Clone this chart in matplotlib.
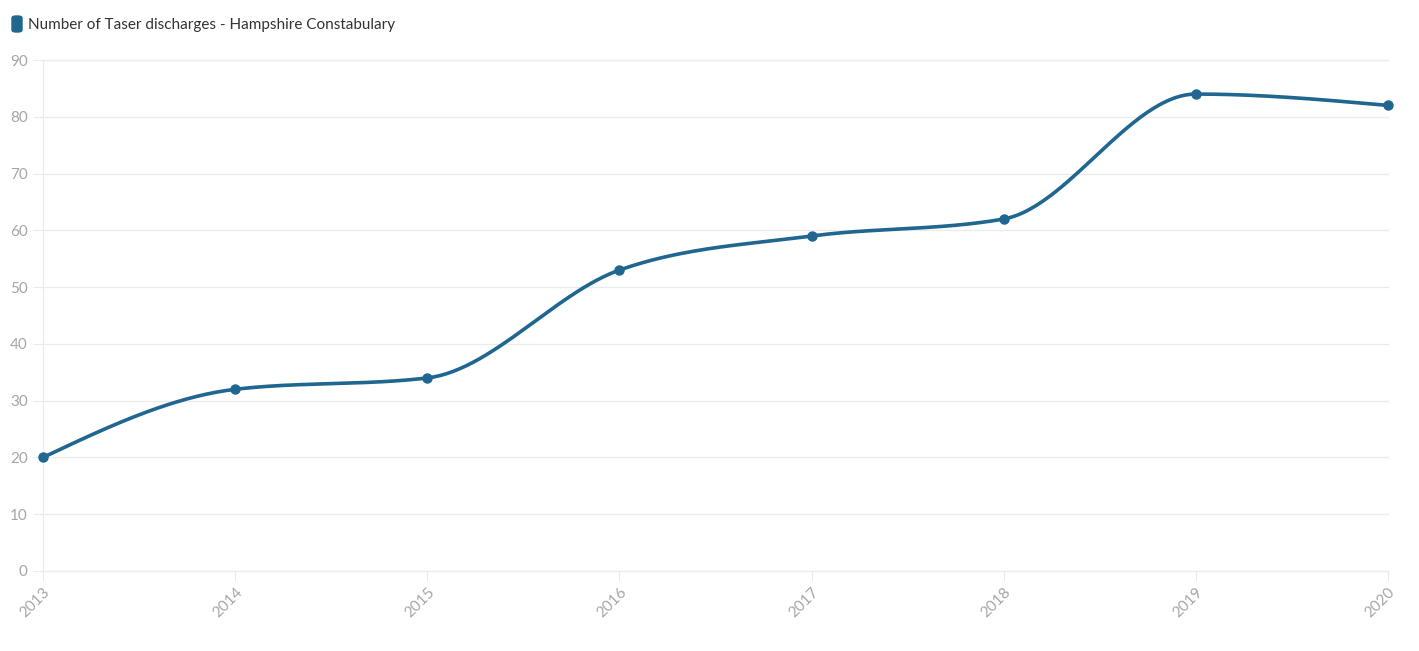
import numpy as np
import matplotlib.pyplot as plt
from matplotlib.patches import FancyBboxPatch

years = [2013, 2014, 2015, 2016, 2017, 2018, 2019, 2020]
discharges = [20, 32, 34, 53, 59, 62, 84, 82]
yticks = [0, 10, 20, 30, 40, 50, 60, 70, 80, 90]

line_color = '#1f6690'
tick_color = '#a6a6a6'
grid_color = '#ebebeb'

plt.rcParams['font.family'] = ['Lato', 'DejaVu Sans']


# monotone cubic like d3.curveMonotoneX
def monotone_curve(x, y, n=60):
    x = np.asarray(x, float)
    y = np.asarray(y, float)
    h = np.diff(x)
    s = np.diff(y) / h
    m = np.zeros(len(x))
    for i in range(1, len(x) - 1):
        p = (s[i - 1] * h[i] + s[i] * h[i - 1]) / (h[i - 1] + h[i])
        m[i] = (np.sign(s[i - 1]) + np.sign(s[i])) * min(abs(s[i - 1]), abs(s[i]), 0.5 * abs(p))
    m[0] = (3 * s[0] - m[1]) / 2
    m[-1] = (3 * s[-1] - m[-2]) / 2
    xs, ys = [], []
    for i in range(len(x) - 1):
        t = np.linspace(0, 1, n)
        h00 = 2 * t**3 - 3 * t**2 + 1
        h10 = t**3 - 2 * t**2 + t
        h01 = -2 * t**3 + 3 * t**2
        h11 = t**3 - t**2
        xs.extend(x[i] + t * h[i])
        ys.extend(h00 * y[i] + h10 * h[i] * m[i] + h01 * y[i + 1] + h11 * h[i] * m[i + 1])
    return np.array(xs), np.array(ys)


fig = plt.figure(figsize=(14.19, 6.51), dpi=100)
ax = fig.add_axes([43 / 1419, 80 / 651, (1388 - 43) / 1419, (571 - 60) / 651])

cx, cy = monotone_curve(years, discharges)
ax.plot(cx, cy, color=line_color, lw=2.6, solid_capstyle='round', zorder=3)
ax.plot(years, discharges, 'o', color=line_color, ms=6.5, zorder=4, clip_on=False)

ax.set_xlim(2013, 2020)
ax.set_ylim(0, 90)
ax.set_yticks(yticks)
ax.set_xticks(years)
ax.set_xticklabels([str(y) for y in years], rotation=45, ha='right', rotation_mode='anchor')
ax.grid(axis='y', color=grid_color, lw=1)
for gl in ax.get_ygridlines():
    gl.set_clip_on(False)
ax.set_axisbelow(True)
for side in ['top', 'right', 'bottom']:
    ax.spines[side].set_visible(False)
ax.spines['left'].set_color(grid_color)
ax.tick_params(axis='both', colors=grid_color, labelcolor=tick_color, labelsize=11, length=7)
ax.tick_params(axis='y', pad=4)
ax.tick_params(axis='x', pad=3)

# legend swatch + label
fig.patches.append(FancyBboxPatch((12 / 1419, 1 - 32 / 651), 10 / 1419, 16 / 651,
                                  boxstyle='round,pad=0,rounding_size=0.003',
                                  transform=fig.transFigure, color=line_color))
fig.text(28 / 1419, 1 - 25 / 651, 'Number of Taser discharges - Hampshire Constabulary',
         fontsize=11, color='#333333', va='center', ha='left')

fig.savefig('out.png', dpi=100)
